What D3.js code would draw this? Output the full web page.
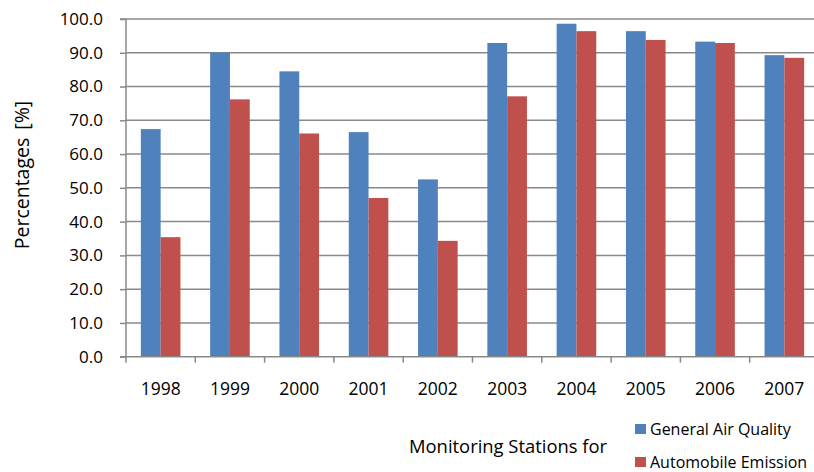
<!DOCTYPE html>
<html><head><meta charset="utf-8">
<script src="https://cdn.jsdelivr.net/npm/d3@7"></script>
<style>body{margin:0;background:#fff}svg{display:block}text{font-family:"Open Sans",sans-serif;fill:#000}</style>
</head><body><svg id="c" width="814" height="472"></svg>
<script>
const years = ["1998","1999","2000","2001","2002","2003","2004","2005","2006","2007"];
const generalAir = [67.4, 90.1, 84.5, 66.5, 52.5, 92.9, 98.6, 96.4, 93.3, 89.3];
const automobile = [35.4, 76.2, 66.1, 47.0, 34.3, 77.1, 96.4, 93.8, 92.9, 88.5];
const seriesNames = ["General Air Quality", "Automobile Emission"];
const seriesColors = ["#4F81BD", "#C0504D"];
const yTicks = [0,10,20,30,40,50,60,70,80,90,100];

const svg = d3.select("#c");
const L = 126, R = 819, T = 19, B = 356.7;
const x = d3.scaleBand().domain(years).range([L, R]).paddingInner(0).paddingOuter(0);
const y = d3.scaleLinear().domain([0,100]).range([B, T]);

// gridlines
svg.append("g").selectAll("line").data(yTicks.filter(d=>d>0)).join("line")
  .attr("x1", L).attr("x2", R).attr("y1", d=>y(d)).attr("y2", d=>y(d))
  .attr("stroke", "#8a8a8a").attr("stroke-width", 1.5);

const bw = x.bandwidth()/3.5;
const data = [generalAir, automobile];
data.forEach((vals, si) => {
  svg.append("g").selectAll("rect").data(years).join("rect")
    .attr("x", (d)=> x(d) + x.bandwidth()/2 - bw + si*bw)
    .attr("width", bw)
    .attr("y", (d,i)=> y(vals[i]))
    .attr("height", (d,i)=> B - y(vals[i]))
    .attr("fill", seriesColors[si]);
});

// y axis
const ya = svg.append("g").attr("transform", `translate(${L},0)`)
  .call(d3.axisLeft(y).tickValues(yTicks).tickFormat(d3.format(".1f")).tickSize(6).tickPadding(17));
ya.select(".domain").attr("stroke", "#8a8a8a").attr("stroke-width", 1.5).attr("d", `M-6,${T}H0V${B}H-6`);
ya.selectAll(".tick line").attr("stroke", "#8a8a8a").attr("stroke-width", 1.5);
ya.selectAll("text").attr("font-size", 17).attr("font-family", "Open Sans").attr("fill", "#000");

// x axis
const xa = svg.append("g").attr("transform", `translate(0,${B})`)
  .call(d3.axisBottom(x).tickSize(0).tickPadding(26));
xa.select(".domain").attr("stroke", "#8a8a8a").attr("stroke-width", 1.5).attr("d", `M${L},0H${R}`);
xa.selectAll("text").attr("font-size", 17.5).attr("font-family", "Open Sans").attr("fill", "#000");
// category separator ticks
svg.append("g").selectAll("line").data(years.concat(["end"])).join("line")
  .attr("x1", (d,i)=> L + i*x.bandwidth()).attr("x2", (d,i)=> L + i*x.bandwidth())
  .attr("y1", B).attr("y2", B+6).attr("stroke", "#8a8a8a").attr("stroke-width", 1.5);

// y label
svg.append("text").attr("transform", "translate(21,175) rotate(-90)")
  .attr("text-anchor", "middle").attr("dominant-baseline", "central")
  .attr("font-size", 19.5).attr("word-spacing", 3).text("Percentages [%]");

// x title
svg.append("text").attr("x", 409).attr("y", 445).attr("dominant-baseline", "central")
  .attr("font-size", 18.4).text("Monitoring Stations for");

// legend
const leg = svg.append("g");
seriesNames.forEach((n, i) => {
  const cy = 429 + i*33;
  leg.append("rect").attr("x", 635).attr("y", cy-5).attr("width", 11).attr("height", 10).attr("fill", seriesColors[i]);
  leg.append("text").attr("x", 650).attr("y", cy).attr("dominant-baseline", "central").attr("font-size", 16).text(n);
});
</script></body></html>
